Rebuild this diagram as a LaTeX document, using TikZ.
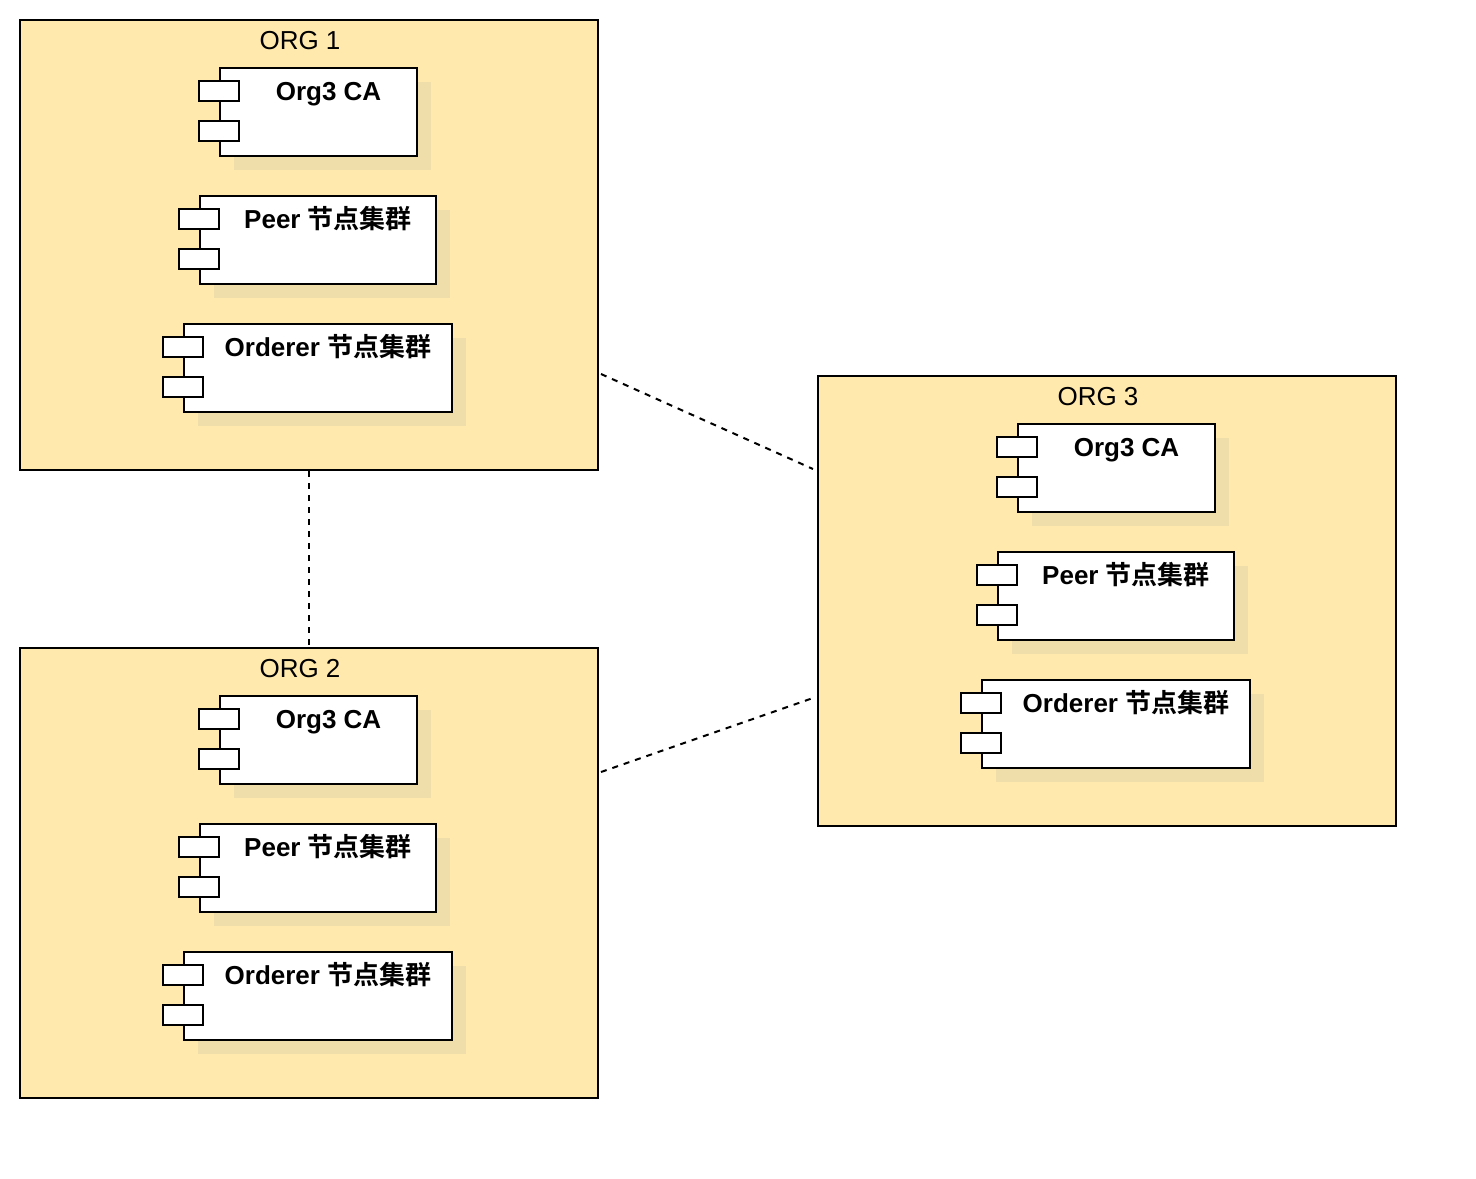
\documentclass[tikz,border=0pt]{standalone}
\usepackage{fontspec}
\setmainfont{Liberation Sans}
\newfontfamily\cjk{Noto Sans CJK SC}[BoldFont={Noto Sans CJK SC Bold}]
\usepackage{xcolor}
\usepackage{tikz}
\usetikzlibrary{calc,shadows}

\definecolor{orgfill}{HTML}{FFE9AD}
\definecolor{shadefill}{HTML}{EFDEAA}

\begin{document}
\begin{tikzpicture}[x=0.75pt, y=-0.75pt, line width=1.5pt,
  org/.style={draw, fill=orgfill, minimum width=433.5pt, minimum height=337.5pt, inner sep=0pt},
  orgtitle/.style={anchor=base, font=\fontsize{19.5}{23}\selectfont},
  comp/.style={draw, fill=white, minimum height=66pt, inner sep=0pt,
    drop shadow={shadow xshift=10.5pt, shadow yshift=-10.5pt, fill=shadefill, opacity=1}},
  port/.style={draw, fill=white, minimum width=30pt, minimum height=15pt, inner sep=0pt},
  complabel/.style={anchor=base, font=\fontsize{19.5}{23}\selectfont\bfseries},
  link/.style={dash pattern=on 4.5pt off 4.5pt}]
\useasboundingbox (0,0) rectangle (1476,1178);

\foreach \i/\dx/\dy in {1/0/0, 2/0/628, 3/798/356} {
  \node[org] (org\i) at (309+\dx,245+\dy) {};
  \node[orgtitle] (title\i) at ($(org\i.north)+(-9,30.5)$) {ORG \i};

  % components
  \node[comp, minimum width=147.75pt] (ca\i) at ($(org\i)+(9.5,-133)$) {};
  \node[comp, minimum width=177pt] (peer\i) at ($(org\i)+(9,-5)$) {};
  \node[comp, minimum width=201pt] (ord\i) at ($(org\i)+(9,123)$) {};

  \foreach \c in {ca,peer,ord} {
    \node[port] (\c\i-p1) at ($(\c\i.north west)+(0,24)$) {};
    \node[port] (\c\i-p2) at ($(\c\i.north west)+(0,64)$) {};
  }

  \node[complabel] (ca\i-t) at ($(ca\i.north)+(10,33.5)$) {Org3 CA};
  \node[complabel] (peer\i-t) at ($(peer\i.north)+(10,33.5)$) {Peer {\cjk\bfseries 节点集群}};
  \node[complabel] (ord\i-t) at ($(ord\i.north)+(10,33.5)$) {Orderer {\cjk\bfseries 节点集群}};
}

% links between orgs
\draw[link] (org1.south) -- (org2.north);
\draw[link] ($(org1.east)+(2,129)$) -- ($(org3.west)+(-4,-132)$);
\draw[link] ($(org2.east)+(2,-101)$) -- ($(org3.west)+(-4,97)$);
\end{tikzpicture}
\end{document}
